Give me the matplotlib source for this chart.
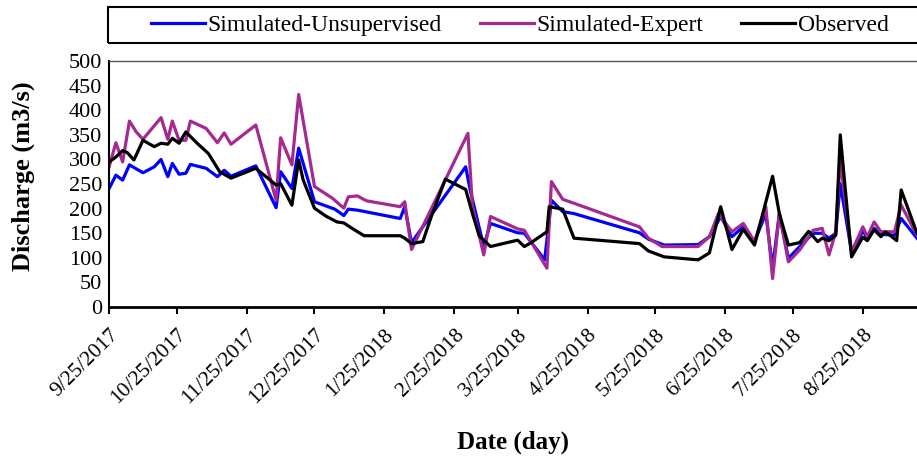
import pandas as pd
import matplotlib.pyplot as plt
from matplotlib.patches import Rectangle

plt.rcParams['font.family'] = ['Liberation Serif', 'DejaVu Serif']

# observed discharge (m3/s)
obs_dates = ['2017-09-25', '2017-09-28', '2017-10-01', '2017-10-03', '2017-10-06', '2017-10-10',
             '2017-10-15', '2017-10-18', '2017-10-21', '2017-10-23', '2017-10-26', '2017-10-29',
             '2017-11-03', '2017-11-08', '2017-11-13', '2017-11-18', '2017-11-29', '2017-12-08',
             '2017-12-10', '2017-12-15', '2017-12-18', '2017-12-20', '2017-12-25', '2017-12-30',
             '2018-01-04', '2018-01-07', '2018-01-11', '2018-01-16', '2018-02-01', '2018-02-03',
             '2018-02-06', '2018-02-11', '2018-02-15', '2018-02-21', '2018-03-02', '2018-03-05',
             '2018-03-08', '2018-03-13', '2018-03-25', '2018-03-28', '2018-03-31', '2018-04-07',
             '2018-04-08', '2018-04-14', '2018-04-19', '2018-05-18', '2018-05-22', '2018-05-29',
             '2018-06-13', '2018-06-18', '2018-06-23', '2018-06-28', '2018-07-03', '2018-07-08',
             '2018-07-16', '2018-07-19', '2018-07-23', '2018-07-28', '2018-08-01', '2018-08-05',
             '2018-08-07', '2018-08-10', '2018-08-13', '2018-08-15', '2018-08-20', '2018-08-25',
             '2018-08-27', '2018-08-30', '2018-09-02', '2018-09-04', '2018-09-06', '2018-09-09',
             '2018-09-11', '2018-09-18']
obs_vals = [295, 305, 318, 314, 299, 339,
            326, 333, 331, 343, 333, 356,
            333, 312, 275, 262, 282, 248,
            251, 207, 299, 258, 201, 185,
            173, 171, 159, 145, 145, 140,
            129, 133, 187, 260, 239, 190,
            145, 123, 136, 123, 131, 153,
            204, 199, 140, 129, 114, 102,
            96, 110, 204, 117, 158, 126,
            266, 190, 126, 131, 154, 133,
            140, 135, 146, 350, 102, 142,
            135, 157, 143, 153, 146, 135,
            238, 150]

# simulated - unsupervised
uns_dates = ['2017-09-25', '2017-09-28', '2017-10-01', '2017-10-04', '2017-10-10', '2017-10-15',
             '2017-10-18', '2017-10-21', '2017-10-23', '2017-10-26', '2017-10-29', '2017-10-31',
             '2017-11-07', '2017-11-12', '2017-11-15', '2017-11-18', '2017-11-29', '2017-12-08',
             '2017-12-10', '2017-12-15', '2017-12-18', '2017-12-25', '2018-01-03', '2018-01-07',
             '2018-01-09', '2018-01-13', '2018-02-01', '2018-02-03', '2018-02-06', '2018-03-02',
             '2018-03-04', '2018-03-10', '2018-03-13', '2018-03-25', '2018-03-28', '2018-04-06',
             '2018-04-09', '2018-04-14', '2018-04-19', '2018-05-18', '2018-05-22', '2018-05-29',
             '2018-06-13', '2018-06-18', '2018-06-23', '2018-06-28', '2018-07-03', '2018-07-08',
             '2018-07-13', '2018-07-16', '2018-07-19', '2018-07-23', '2018-07-28', '2018-08-03',
             '2018-08-07', '2018-08-10', '2018-08-13', '2018-08-15', '2018-08-20', '2018-08-25',
             '2018-08-27', '2018-08-30', '2018-09-02', '2018-09-08', '2018-09-11', '2018-09-18']
uns_vals = [241, 268, 258, 289, 273, 285,
            300, 265, 292, 270, 272, 290,
            282, 265, 278, 266, 287, 202,
            275, 241, 323, 214, 199, 186,
            199, 197, 180, 204, 131, 285,
            238, 123, 170, 151, 150, 96,
            217, 194, 190, 151, 138, 126,
            127, 143, 184, 143, 163, 133,
            190, 80, 190, 99, 123, 150,
            150, 140, 150, 251, 112, 155,
            140, 160, 148, 146, 180, 140]

# simulated - expert
exp_dates = ['2017-09-25', '2017-09-28', '2017-10-01', '2017-10-04', '2017-10-07', '2017-10-10',
             '2017-10-18', '2017-10-21', '2017-10-23', '2017-10-26', '2017-10-29', '2017-10-31',
             '2017-11-07', '2017-11-12', '2017-11-15', '2017-11-18', '2017-11-29', '2017-12-08',
             '2017-12-10', '2017-12-15', '2017-12-18', '2017-12-25', '2018-01-02', '2018-01-07',
             '2018-01-09', '2018-01-13', '2018-01-17', '2018-02-01', '2018-02-03', '2018-02-06',
             '2018-03-03', '2018-03-05', '2018-03-10', '2018-03-13', '2018-03-25', '2018-03-28',
             '2018-04-07', '2018-04-09', '2018-04-14', '2018-04-19', '2018-05-18', '2018-05-22',
             '2018-05-28', '2018-06-13', '2018-06-18', '2018-06-22', '2018-06-28', '2018-07-03',
             '2018-07-08', '2018-07-13', '2018-07-16', '2018-07-19', '2018-07-23', '2018-07-28',
             '2018-08-03', '2018-08-07', '2018-08-10', '2018-08-13', '2018-08-15', '2018-08-20',
             '2018-08-25', '2018-08-27', '2018-08-30', '2018-09-02', '2018-09-08', '2018-09-11',
             '2018-09-18']
exp_vals = [285, 334, 295, 378, 356, 341,
            385, 341, 378, 339, 339, 378,
            363, 334, 354, 331, 370, 217,
            344, 289, 432, 245, 221, 201,
            224, 226, 216, 204, 214, 117,
            353, 204, 106, 184, 159, 156,
            79, 255, 219, 211, 163, 140,
            123, 123, 143, 190, 153, 170,
            133, 204, 58, 190, 92, 116,
            156, 160, 106, 153, 299, 112,
            163, 143, 173, 153, 153, 207,
            146]

tick_dates = pd.date_range('2017-09-01', '2018-08-01', freq='MS') + pd.Timedelta(days=24)
tick_labels = [f'{d.month}/{d.day}/{d.year}' for d in tick_dates]

fig = plt.figure(figsize=(9.17, 4.59), dpi=100)
ax = fig.add_axes([0.119, 0.331, 0.881, 0.536])

ax.plot(pd.to_datetime(uns_dates), uns_vals, color='#0000FF', linewidth=2.3, label='Simulated-Unsupervised')
ax.plot(pd.to_datetime(exp_dates), exp_vals, color='#A5298F', linewidth=2.3, label='Simulated-Expert')
ax.plot(pd.to_datetime(obs_dates), obs_vals, color='black', linewidth=2.3, label='Observed')

ax.set_xlim(pd.Timestamp('2017-09-25'), pd.Timestamp('2018-09-18'))
ax.set_ylim(0, 500)
ax.set_yticks(range(0, 501, 50))
ax.set_xticks(tick_dates)
ax.set_xticklabels(tick_labels, rotation=45, ha='right', rotation_mode='anchor')
ax.tick_params(axis='x', length=5, width=1.5, labelsize=15.5, pad=8)
ax.tick_params(axis='y', length=0, labelsize=16, pad=5)

ax.spines['right'].set_visible(False)
ax.spines['top'].set_color('#555555')
ax.spines['top'].set_linewidth(1)
ax.spines['left'].set_linewidth(1.5)
ax.spines['bottom'].set_linewidth(2)

ax.set_ylabel('Discharge (m3/s)', fontsize=19, fontweight='bold')
ax.yaxis.set_label_coords(-0.092, 0.53)
ax.set_xlabel('Date (day)', fontsize=18, fontweight='bold', labelpad=16)

# legend box drawn in figure coords, wider than the legend contents
fig.patches.append(Rectangle((108 / 917, 1 - 43 / 459), 825 / 917, 36 / 459,
                             transform=fig.transFigure, fill=False,
                             edgecolor='black', linewidth=1.5))
fig.legend(loc='center', bbox_to_anchor=(0.567, 0.9455), ncol=3, fontsize=17,
           frameon=False, handlelength=2.3, handletextpad=0.1, columnspacing=1.6)

plt.savefig('out.png', dpi=100)
